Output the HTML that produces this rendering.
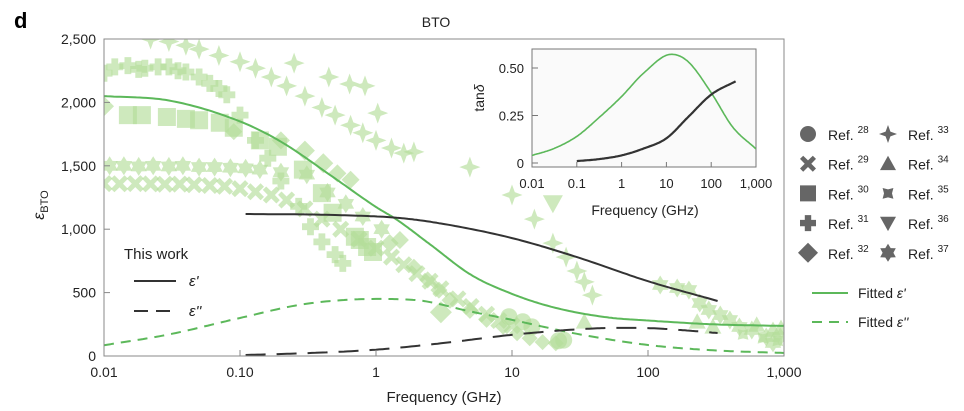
<!DOCTYPE html>
<html><head><meta charset="utf-8"><style>
html,body{margin:0;padding:0;background:#fff}
svg{display:block;font-family:"Liberation Sans",sans-serif}
</style></head><body>
<svg id="c" width="964" height="411" viewBox="0 0 964 411">
<defs><clipPath id="pc"><rect x="104" y="39" width="680" height="317"/></clipPath>
<clipPath id="ic"><rect x="532" y="49" width="224" height="118"/></clipPath></defs>
<text x="14" y="28" font-size="22" font-weight="bold">d</text>
<text x="436" y="27" font-size="14" text-anchor="middle" fill="#222">BTO</text>
<g id="scatter" clip-path="url(#pc)"></g>
<g id="curves" clip-path="url(#pc)"></g>
<rect x="104" y="39" width="680" height="317" fill="none" stroke="#888" stroke-width="1"/>
<g id="axes"></g>
<text x="444" y="402" font-size="15" text-anchor="middle" fill="#222">Frequency (GHz)</text>
<text transform="translate(44,205) rotate(-90)" font-size="16" text-anchor="middle" fill="#222"><tspan font-style="italic">ε</tspan><tspan font-size="11" dy="4">BTO</tspan></text>
<g>
<text x="124" y="259" font-size="15" fill="#222">This work</text>
<line x1="134" y1="281" x2="176" y2="281" stroke="#333" stroke-width="2"/>
<text x="189" y="286" font-size="15" font-style="italic" fill="#222">ε'</text>
<line x1="134" y1="311" x2="176" y2="311" stroke="#333" stroke-width="2" stroke-dasharray="14,8"/>
<text x="189" y="316" font-size="15" font-style="italic" fill="#222">ε''</text>
</g>
<g id="inset"></g>
<g id="legend"></g>
</svg>
<script>
const NS="http://www.w3.org/2000/svg";
// ---- main axis tick data
const xTicks=[0.01,0.1,1,10,100,1000];
const xTickLabels=["0.01","0.10","1","10","100","1,000"];
const yTicks=[0,500,1000,1500,2000,2500];
const yTickLabels=["0","500","1,000","1,500","2,000","2,500"];
// ---- fitted / measured curves (freq GHz, eps)
const fitEpsRealF=[0.01,0.03,0.1,0.2,0.5,1,1.4,2.5,5,10,20,50,100,300,1000];
const fitEpsRealV=[2050,2015,1850,1690,1400,1175,1080,880,640,490,385,305,280,250,237];
const fitEpsImagF=[0.01,0.03,0.1,0.3,1,2,5,10,30,100,300,1000];
const fitEpsImagV=[85,170,300,410,450,440,350,285,175,87,45,24];
const workRealF=[0.11,0.5,1.5,3,10,30,100,325];
const workRealV=[1120,1112,1088,1045,930,780,590,434];
const workImagF=[0.11,0.3,1,3,9.6,30,60,100,200,325];
const workImagV=[8,22,50,100,165,210,222,220,200,181];
// inset tan delta
const inXTicks=[0.01,0.1,1,10,100,1000];
const inXLabels=["0.01","0.1","1","10","100","1,000"];
const inYTicks=[0,0.25,0.5];
const inYLabels=["0","0.25","0.50"];
const tanFitF=[0.01,0.03,0.1,0.3,1,3,13,30,100,300,1000];
const tanFitV=[0.04,0.075,0.14,0.235,0.35,0.47,0.572,0.535,0.37,0.19,0.074];
const tanWorkF=[0.1,0.3,1,3,10,30,100,350];
const tanWorkV=[0.01,0.02,0.04,0.075,0.13,0.24,0.36,0.43];
// ---- literature scatter series
const ref28F=[9.5,12,14,22,24];
const ref28V=[310,270,230,120,125];
const ref29F=[0.01,0.013,0.017,0.022,0.028,0.036,0.046,0.06,0.077,0.1,0.13,0.17,0.22,0.3,0.4,0.55,0.75,1,1.3,1.6,2,2.5,3,4,5,6.5,8,10];
const ref29V=[1360,1358,1360,1357,1355,1356,1350,1345,1338,1320,1295,1270,1230,1160,1080,1000,920,850,780,720,650,590,530,450,390,330,280,240];
const ref30F=[0.015,0.019,0.029,0.04,0.05,0.071,0.09,0.14,0.19,0.29,0.4,0.48,0.7,0.76,0.86,0.95];
const ref30V=[1900,1900,1885,1870,1860,1840,1800,1700,1650,1470,1285,1130,940,915,860,820];
const ref31F=[0.01,0.012,0.015,0.018,0.02,0.025,0.03,0.035,0.04,0.05,0.06,0.07,0.08,0.1,0.13,0.16,0.2,0.27,0.33,0.4,0.5,0.57];
const ref31V=[2230,2280,2290,2260,2270,2280,2280,2250,2240,2200,2150,2110,2060,1900,1700,1560,1380,1180,1020,900,800,730];
const ref32F=[0.01,0.09,0.2,0.3,0.41,0.52,0.65,1.26,1.5,1.9,2.4,2.9,3,3.5,4.9,6.5,8.6,10.9,13.5,16.8,21];
const ref32V=[1970,1770,1700,1620,1520,1440,1390,890,915,700,600,520,345,440,360,285,230,180,140,110,100];
const ref32S=[20,17,18,20,20,18,18,18,18,17,17,17,22,17,17,16,16,16,16,16,16];
const ref33F=[0.022,0.03,0.04,0.05,0.07,0.1,0.13,0.17,0.22,0.3,0.4,0.5,0.65,0.8,1,1.3,1.6,1.9,0.25,0.45,0.64,0.83,1.03,4.9,10,14.6,20,25,30,34,39];
const ref33V=[2500,2480,2450,2420,2370,2320,2270,2200,2130,2050,1960,1900,1820,1760,1700,1640,1600,1610,2310,2200,2145,2130,1916,1490,1270,1080,890,780,670,584,480];
const ref34F=[34,230,300,630,830,950];
const ref34V=[270,270,230,245,205,220];
const ref35F=[500,700,900];
const ref35V=[170,140,120];
const ref36F=[20];
const ref36V=[1205];
const ref37F=[0.011,0.014,0.018,0.023,0.03,0.038,0.05,0.065,0.085,0.11,0.14,0.2,0.31,0.44,0.6,0.8,1.1,123,164,200,240,280,340,400,470,580,740,830,940];
const ref37V=[1500,1500,1495,1500,1495,1500,1490,1490,1485,1480,1470,1450,1430,1290,1200,1100,1000,560,536,520,418,363,323,284,229,205,150,103,150];

const X=f=>104+(Math.log10(f)+2)*136;
const Y=v=>356-v*317/2500;
const XI=f=>532+(Math.log10(f)+2)*44.8;
const YI=t=>163-t*190;

function mk(tag,attrs,parent){const e=document.createElementNS(NS,tag);for(const k in attrs)e.setAttribute(k,attrs[k]);parent.appendChild(e);return e;}
function txt(x,y,s,size,anchor,parent){const t=mk('text',{x:x,y:y,'font-size':size,'text-anchor':anchor,fill:'#222'},parent);t.textContent=s;return t;}

function shapePath(type,cx,cy,s){
  const r=s/2;let p=[];
  const poly=pts=>'M'+pts.map(q=>(cx+q[0]).toFixed(1)+','+(cy+q[1]).toFixed(1)).join('L')+'Z';
  if(type==='square')return poly([[-r,-r],[r,-r],[r,r],[-r,r]]);
  if(type==='diamond')return poly([[0,-r],[r,0],[0,r],[-r,0]]);
  if(type==='tri')return poly([[0,-r],[r,r*0.8],[-r,r*0.8]]);
  if(type==='tridown')return poly([[0,r],[r,-r*0.8],[-r,-r*0.8]]);
  if(type==='plus'){const w=r*0.4;return poly([[-w,-r],[w,-r],[w,-w],[r,-w],[r,w],[w,w],[w,r],[-w,r],[-w,w],[-r,w],[-r,-w],[-w,-w]]);}
  if(type==='x'){const a=r*0.38,b=r;return poly([[0,-a*1.1],[b*0.6,-b],[b,-b*0.6],[a*1.1,0],[b,b*0.6],[b*0.6,b],[0,a*1.1],[-b*0.6,b],[-b,b*0.6],[-a*1.1,0],[-b,-b*0.6],[-b*0.6,-b]]);}
  if(type==='star4'){for(let i=0;i<8;i++){const ang=i*Math.PI/4-Math.PI/2;const rr=i%2?r*0.38:r;p.push([rr*Math.cos(ang),rr*Math.sin(ang)]);}return poly(p);}
  if(type==='cquad'){for(let i=0;i<8;i++){const ang=i*Math.PI/4-Math.PI/4;const rr=i%2?r*0.5:r*0.95;p.push([rr*Math.cos(ang),rr*Math.sin(ang)]);}return poly(p);}
  if(type==='hex'){for(let i=0;i<12;i++){const ang=i*Math.PI/6-Math.PI/2;const rr=i%2?r*0.6:r;p.push([rr*Math.cos(ang),rr*Math.sin(ang)]);}return poly(p);}
  return '';
}
function drawMark(type,cx,cy,s,fill,parent,name){
  let e;
  if(type==='circle')e=mk('circle',{cx:cx,cy:cy,r:s/2,fill:fill},parent);
  else e=mk('path',{d:shapePath(type,cx,cy,s),fill:fill},parent);
  
  
  return e;
}
const sc=document.getElementById('scatter');
const MF='#b3dd99';
const series=[
 ['circle',ref28F,ref28V,17,'ref28-point'],
 ['x',ref29F,ref29V,17,'ref29-point'],
 ['square',ref30F,ref30V,18,'ref30-point'],
 ['plus',ref31F,ref31V,17,'ref31-point'],
 ['diamond',ref32F,ref32V,null,'ref32-point'],
 ['star4',ref33F,ref33V,21,'ref33-point'],
 ['tri',ref34F,ref34V,17,'ref34-point'],
 ['cquad',ref35F,ref35V,16,'ref35-point'],
 ['tridown',ref36F,ref36V,20,'ref36-point'],
 ['hex',ref37F,ref37V,19,'ref37-point']];
series.forEach(([t,F,V,s,n])=>{F.forEach((f,i)=>{const m=drawMark(t,X(f),Y(V[i]),s||ref32S[i],MF,sc,n);m.setAttribute('opacity','0.65');});});

// monotone cubic interpolation in log-frequency space, sampled densely
function monoPath(F,V,xf,yf){
  const xs=F.map(f=>Math.log10(f)),n=xs.length;
  const d=[],m=new Array(n);
  for(let i=0;i<n-1;i++)d.push((V[i+1]-V[i])/(xs[i+1]-xs[i]));
  m[0]=d[0];m[n-1]=d[n-2];
  for(let i=1;i<n-1;i++){m[i]=(d[i-1]*d[i]<=0)?0:(d[i-1]+d[i])/2;}
  for(let i=0;i<n-1;i++){if(d[i]===0){m[i]=0;m[i+1]=0;continue;}const a=m[i]/d[i],b=m[i+1]/d[i],s=a*a+b*b;if(s>9){const t=3/Math.sqrt(s);m[i]=t*a*d[i];m[i+1]=t*b*d[i];}}
  let path='';
  for(let i=0;i<n-1;i++){const h=xs[i+1]-xs[i];
    for(let k=0;k<=20;k++){if(i>0&&k===0)continue;const t=k/20,t2=t*t,t3=t2*t;
      const v=(2*t3-3*t2+1)*V[i]+(t3-2*t2+t)*h*m[i]+(-2*t3+3*t2)*V[i+1]+(t3-t2)*h*m[i+1];
      const x=xf(Math.pow(10,xs[i]+t*h)),y=yf(v);
      path+=(path?'L':'M')+x.toFixed(1)+','+y.toFixed(1);}}
  return path;
}
const cv=document.getElementById('curves');
function curve(F,V,xf,yf,stroke,dash,parent,name,w){
  const e=mk('path',{d:monoPath(F,V,xf,yf),fill:'none',stroke:stroke,'stroke-width':w||2,'stroke-linejoin':'round'},parent);
  if(dash)e.setAttribute('stroke-dasharray',dash);
  
  
}
const G='#5cb85a',K='#333';
curve(fitEpsImagF,fitEpsImagV,X,Y,G,'10,7',cv,'fitted-eps-imag-line');
curve(workImagF,workImagV,X,Y,K,'20,11',cv,'this-work-eps-imag-line');
curve(fitEpsRealF,fitEpsRealV,X,Y,G,null,cv,'fitted-eps-real-line');
curve(workRealF,workRealV,X,Y,K,null,cv,'this-work-eps-real-line');

// main axes ticks
const ax=document.getElementById('axes');
xTicks.forEach((f,i)=>{const x=X(f);mk('line',{x1:x,y1:356,x2:x,y2:350,stroke:'#888'},ax);
 const t=txt(x,377,xTickLabels[i],14,'middle',ax);});
yTicks.forEach((v,i)=>{const y=Y(v);mk('line',{x1:104,y1:y,x2:110,y2:y,stroke:'#888'},ax);
 const t=txt(96,y+5,yTickLabels[i],14,'end',ax);});

// inset
const ins=document.getElementById('inset');


mk('rect',{x:532,y:49,width:224,height:118,fill:'#fafafa',stroke:'#777','stroke-width':1},ins);
const icv=mk('g',{'clip-path':'url(#ic)'},ins);
curve(tanFitF,tanFitV,XI,YI,G,null,icv,'fitted-tan-delta-line',1.6);
curve(tanWorkF,tanWorkV,XI,YI,K,null,icv,'this-work-tan-delta-line',2.2);
inXTicks.forEach((f,i)=>{const x=XI(f);mk('line',{x1:x,y1:167,x2:x,y2:162,stroke:'#777'},ins);
 const t=txt(x,188,inXLabels[i],13,'middle',ins);});
inYTicks.forEach((v,i)=>{const y=YI(v);mk('line',{x1:532,y1:y,x2:538,y2:y,stroke:'#777'},ins);
 const t=txt(524,y+5,inYLabels[i],13,'end',ins);});
const it=txt(645,215,'Frequency (GHz)',14,'middle',ins);


const iy=mk('text',{transform:'translate(484,98) rotate(-90)','font-size':14,'text-anchor':'middle',fill:'#222'},ins);
iy.innerHTML='tan<tspan font-style="italic">δ</tspan>';



// legend
const lg=document.getElementById('legend');


const legTypes=['circle','x','square','plus','diamond','star4','tri','cquad','tridown','hex'];
const legRefs=['28','29','30','31','32','33','34','35','36','37'];
legTypes.forEach((t,i)=>{const col=Math.floor(i/5),row=i%5;const y=134+row*29.7;const mx=col?888:808;
 const s=t==='diamond'?20:(t==='star4'||t==='hex'?18:16);
 drawMark(t,mx,y,s,'#666',lg,'legend-marker-ref'+legRefs[i]);
 const tt=mk('text',{x:mx+20,y:y+6,'font-size':14,fill:'#222'},lg);
 tt.innerHTML='Ref. <tspan font-size="10" dy="-7">'+legRefs[i]+'</tspan>';
 
 });
mk('line',{x1:812,y1:293,x2:848,y2:293,stroke:G,'stroke-width':2},lg);
mk('line',{x1:812,y1:322,x2:848,y2:322,stroke:G,'stroke-width':2,'stroke-dasharray':'10,7'},lg);
const f1=mk('text',{x:858,y:298,'font-size':14,fill:'#222'},lg);f1.innerHTML='Fitted <tspan font-style="italic">ε\'</tspan>';


const f2=mk('text',{x:858,y:327,'font-size':14,fill:'#222'},lg);f2.innerHTML='Fitted <tspan font-style="italic">ε\'\'</tspan>';


</script>
</body></html>
